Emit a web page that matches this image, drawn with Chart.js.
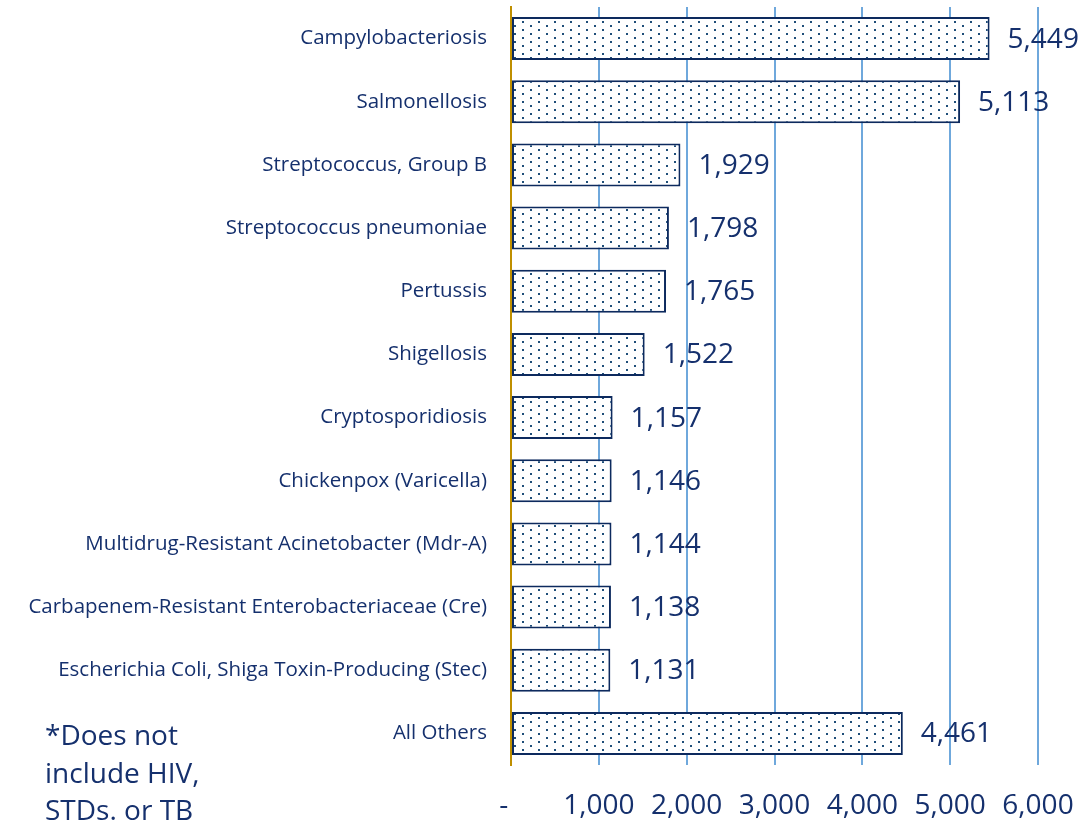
<!DOCTYPE html>
<html>
<head>
<meta charset="utf-8">
<script src="https://cdn.jsdelivr.net/npm/chart.js@4.4.4/dist/chart.umd.min.js"></script>
<style>
  html, body { margin: 0; padding: 0; background: #ffffff; }
  #wrap { position: relative; width: 1087px; height: 822px; }
  #note {
    position: absolute; left: 45px; top: 716px;
    font: 28px "Open Sans", sans-serif; line-height: 37.5px; color: #15306d;
  }
</style>
</head>
<body>
<div id="wrap">
  <canvas id="chart" width="1087" height="822"></canvas>
  <div id="note">*Does not<br>include HIV,<br>STDs. or TB</div>
</div>
<script>
  // data
  const diseases = [
    'Campylobacteriosis',
    'Salmonellosis',
    'Streptococcus, Group B',
    'Streptococcus pneumoniae',
    'Pertussis',
    'Shigellosis',
    'Cryptosporidiosis',
    'Chickenpox (Varicella)',
    'Multidrug-Resistant Acinetobacter (Mdr-A)',
    'Carbapenem-Resistant Enterobacteriaceae (Cre)',
    'Escherichia Coli, Shiga Toxin-Producing (Stec)',
    'All Others'
  ];
  const cases = [5449, 5113, 1929, 1798, 1765, 1522, 1157, 1146, 1144, 1138, 1131, 4461];
  const xTicks = [0, 1000, 2000, 3000, 4000, 5000, 6000];

  const TEXT = '#15306d';
  const FONT = '"Open Sans", sans-serif';

  // dotted fill like the Excel 5% pattern
  function makeDots() {
    const c = document.createElement('canvas');
    c.width = 16; c.height = 8;
    const g = c.getContext('2d');
    g.fillStyle = '#ffffff';
    g.fillRect(0, 0, 16, 8);
    g.fillStyle = '#1f4e79';
    g.fillRect(2, 1, 2, 2);
    g.fillRect(10, 5, 2, 2);
    return g.createPattern(c, 'repeat');
  }

  const valueLabels = {
    id: 'valueLabels',
    afterDatasetsDraw(chart) {
      const ctx = chart.ctx;
      const meta = chart.getDatasetMeta(0);
      ctx.save();
      ctx.font = '28px ' + FONT;
      ctx.fillStyle = TEXT;
      ctx.textAlign = 'left';
      ctx.textBaseline = 'middle';
      meta.data.forEach(function (bar, i) {
        ctx.fillText(cases[i].toLocaleString('en-US'), bar.x + 18, bar.y + 1);
      });
      ctx.restore();
    }
  };

  new Chart(document.getElementById('chart'), {
    type: 'bar',
    data: {
      labels: diseases,
      datasets: [{
        data: cases,
        backgroundColor: makeDots(),
        borderColor: '#0d2a5e',
        borderWidth: 2,
        borderSkipped: false,
        categoryPercentage: 1,
        barPercentage: 0.68
      }]
    },
    options: {
      indexAxis: 'y',
      responsive: false,
      animation: false,
      layout: { padding: { top: 7, right: 49, left: 0, bottom: 0 } },
      plugins: { legend: { display: false }, tooltip: { enabled: false } },
      scales: {
        x: {
          min: 0,
          max: 6000,
          afterBuildTicks(scale) { scale.ticks = xTicks.map(v => ({ value: v })); },
          afterFit(scale) {
            scale.height = 57;
            scale.paddingLeft = 0;
            scale.paddingRight = 0;
          },
          border: { display: false },
          grid: {
            drawTicks: false,
            lineWidth: 2,
            color: ctx => ctx.tick && ctx.tick.value === 0 ? 'rgba(0,0,0,0)' : '#6fa8dc'
          },
          ticks: {
            padding: 24,
            color: TEXT,
            font: { family: FONT, size: 28 },
            maxRotation: 0,
            autoSkip: false,
            callback: v => v === 0 ? '-  ' : v.toLocaleString('en-US')
          }
        },
        y: {
          afterFit(scale) {
            scale.width = 511;
            scale.paddingTop = 0;
            scale.paddingBottom = 0;
          },
          grid: { display: false, drawTicks: false },
          border: { display: true, color: '#bf8f00', width: 2 },
          ticks: {
            padding: 24,
            color: TEXT,
            font: { family: FONT, size: 20.5 },
            autoSkip: false
          }
        }
      }
    },
    plugins: [valueLabels]
  });
</script>
</body>
</html>
